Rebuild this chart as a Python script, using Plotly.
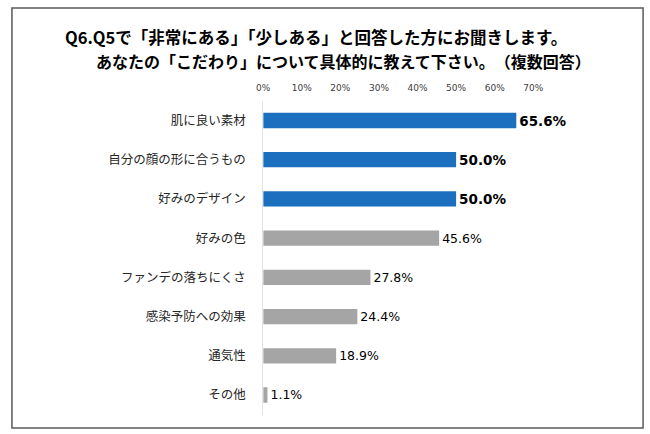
import plotly.graph_objects as go

categories = ["肌に良い素材", "自分の顔の形に合うもの", "好みのデザイン", "好みの色",
              "ファンデの落ちにくさ", "感染予防への効果", "通気性", "その他"]
values = [65.6, 50.0, 50.0, 45.6, 27.8, 24.4, 18.9, 1.1]
highlight = [True, True, True, False, False, False, False, False]
tick_vals = [0, 10, 20, 30, 40, 50, 60, 70]
tick_text = ["0%", "10%", "20%", "30%", "40%", "50%", "60%", "70%"]
title_lines = ["Q6.Q5で「非常にある」「少しある」と回答した方にお聞きします。",
               "あなたの「こだわり」について具体的に教えて下さい。　（複数回答）"]

BLUE = "#1C6FBE"
GRAY = "#A5A5A5"
FONT = "Noto Sans CJK JP"
NUMFONT = "DejaVu Sans"

colors = [BLUE if h else GRAY for h in highlight]
texts = [f"<b>{v:.1f}%</b>" if h else f"{v:.1f}%" for v, h in zip(values, highlight)]
tsizes = [13.5 if h else 12.5 for h in highlight]

W, H = 650, 434

fig = go.Figure(go.Bar(
    x=values, y=categories, orientation="h",
    marker=dict(color=colors, line=dict(width=0)),
    width=0.39,
    text=texts, textposition="outside", textangle=0,
    textfont=dict(family=NUMFONT, size=tsizes, color="#000000"),
    constraintext="none", cliponaxis=False,
    hoverinfo="skip",
))

fig.update_layout(
    width=W, height=H, autosize=False,
    margin=dict(l=0, r=0, t=0, b=0),
    paper_bgcolor="white", plot_bgcolor="white",
    showlegend=False,
    font=dict(family=FONT),
    xaxis=dict(domain=[259/W, 571/W], range=[0, 80], side="top",
               tickvals=tick_vals, ticktext=tick_text,
               tickfont=dict(size=9, color="#404040", family=NUMFONT),
               showgrid=False, zeroline=False, showline=False,
               ticks="outside", ticklen=5, tickcolor="rgba(0,0,0,0)"),
    yaxis=dict(domain=[1 - 414.6/H, 1 - 100.9/H], autorange="reversed",
               tickfont=dict(size=12.5, color="#262626", family=FONT),
               showgrid=False, zeroline=False,
               showline=True, linecolor="#E3E3E3", linewidth=1,
               ticks="", ticklabelstandoff=14),
    shapes=[dict(type="rect", xref="paper", yref="paper",
                 x0=5/W, x1=643/W, y0=1 - 428/H, y1=1 - 8/H,
                 line=dict(color="#595959", width=1.5), fillcolor="rgba(0,0,0,0)")],
    annotations=[
        dict(text=f"<b>{title_lines[0]}</b>",
             xref="paper", yref="paper", align="left",
             x=57/W, y=1 - 37/H, xanchor="left", yanchor="middle", showarrow=False,
             font=dict(size=16.5, color="#000000", family=FONT)),
        dict(text=f"<b>{title_lines[1]}</b>",
             xref="paper", yref="paper", align="left",
             x=88/W, y=1 - 60.5/H, xanchor="left", yanchor="middle", showarrow=False,
             font=dict(size=16, color="#000000", family=FONT)),
    ],
)

fig.write_html("out.html",
               config={"displayModeBar": False, "responsive": False, "staticPlot": True},
               post_script="document.body.style.margin='0';document.body.style.overflow='hidden';")
